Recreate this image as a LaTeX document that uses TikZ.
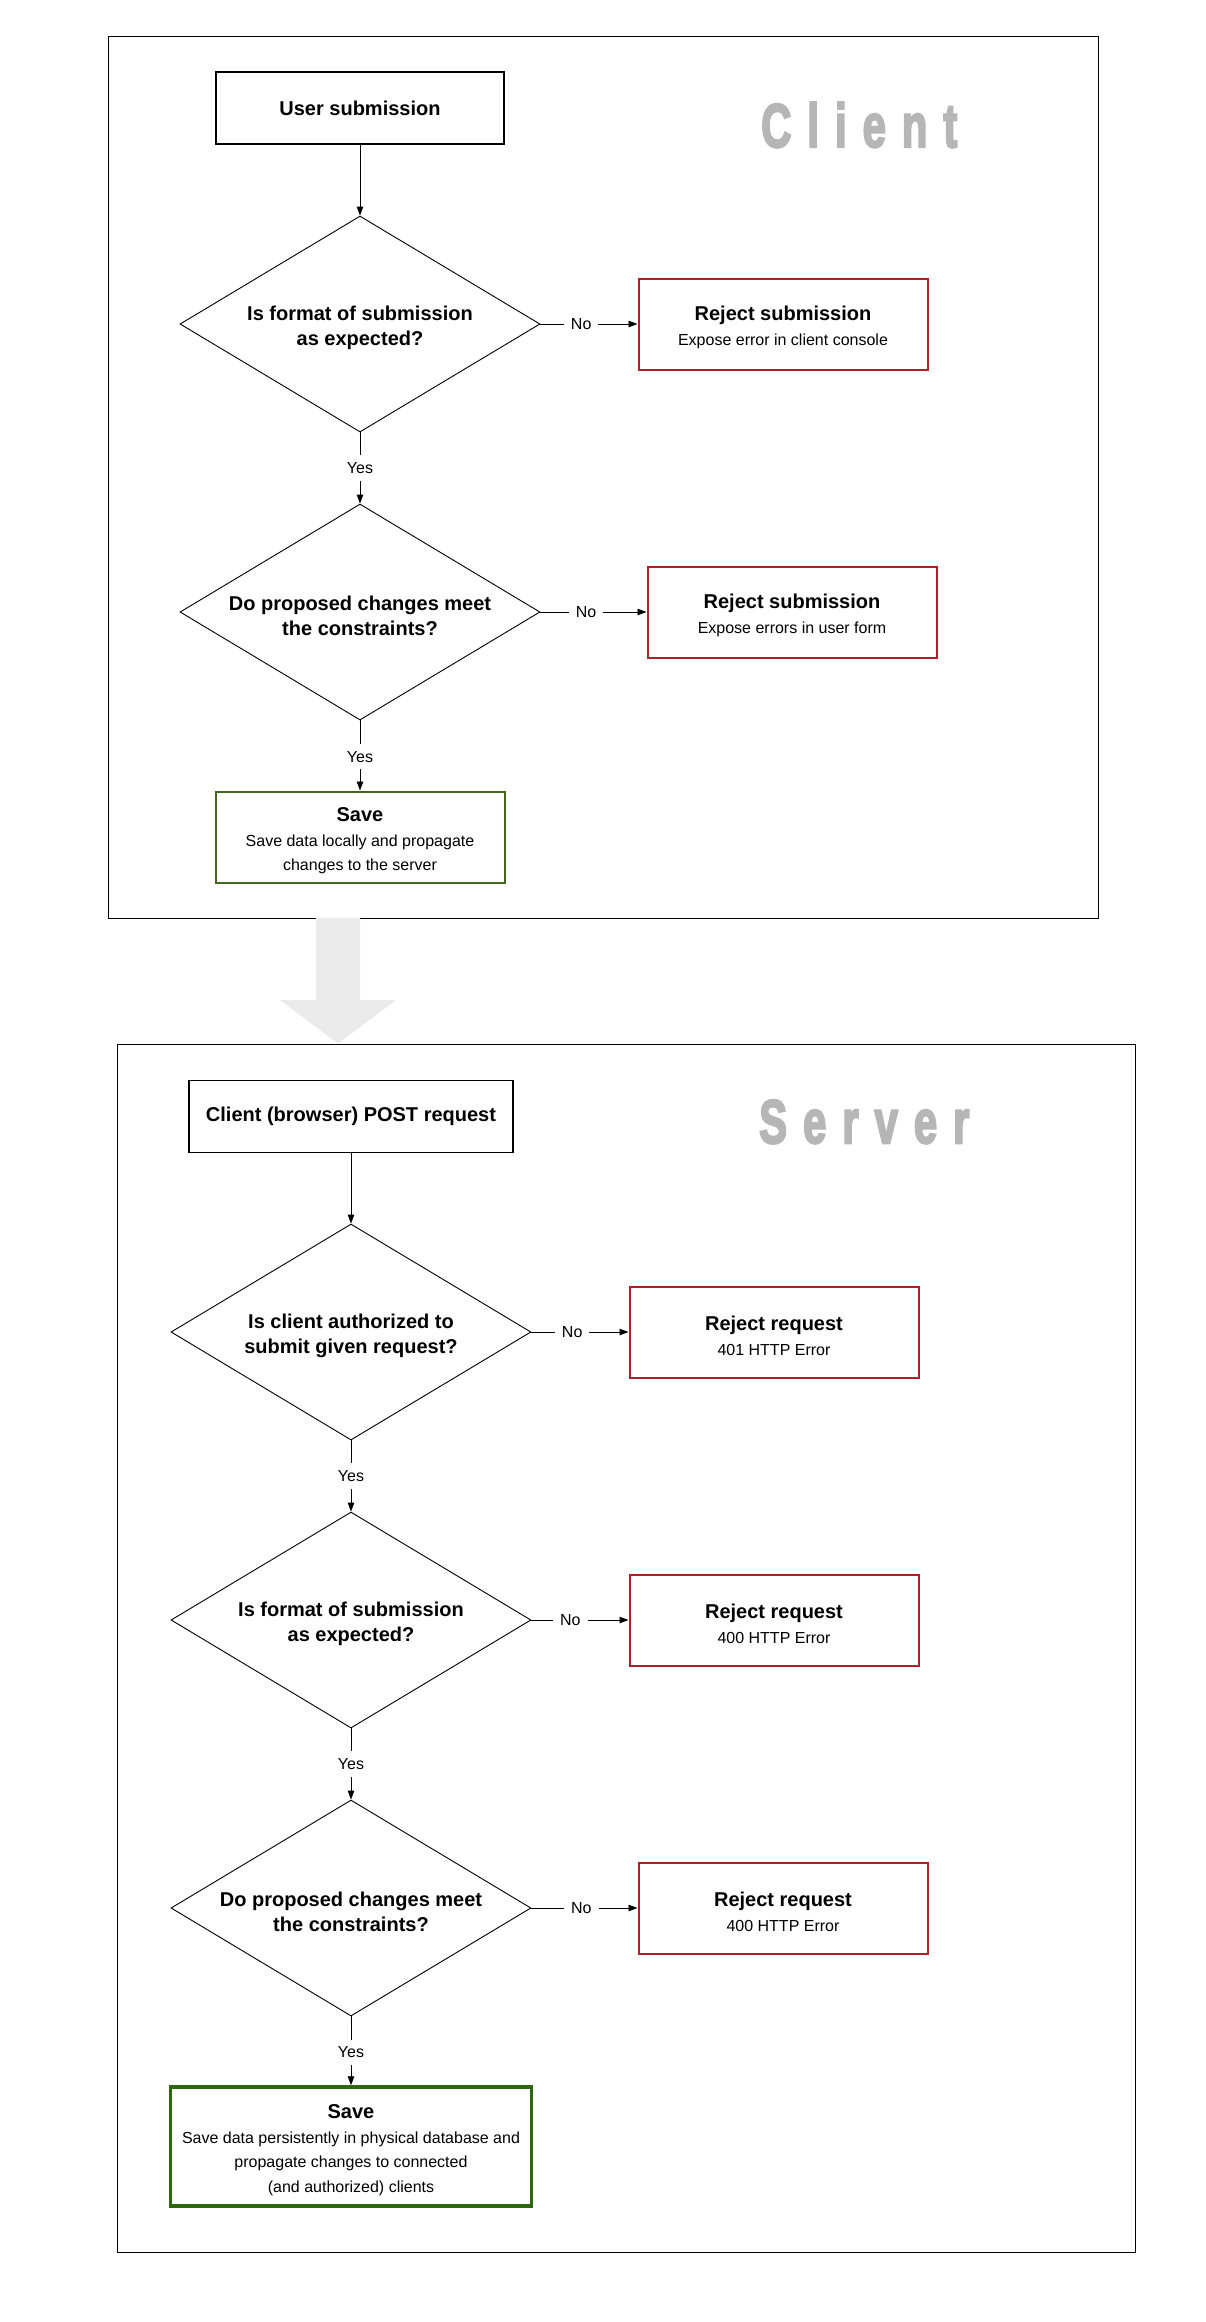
\documentclass[tikz,border=0pt]{standalone}
\usepackage{fontspec}
\usepackage{graphicx}
\setmainfont{Liberation Sans}
\newfontfamily\zonefont[FakeBold=4]{Liberation Sans Bold}
\usetikzlibrary{shapes.geometric,arrows.meta}

\definecolor{rejectred}{RGB}{176,32,42}
\definecolor{savegreen}{RGB}{66,104,28}
\definecolor{finalgreen}{RGB}{44,104,12}
\definecolor{zonegray}{RGB}{182,182,182}
\definecolor{handoffgray}{RGB}{235,235,235}

% one letter of a tracked, condensed zone heading
\newcommand\zoneletter[1]{\scalebox{0.68}[1]{#1}\hspace{16pt}}
\newcommand\zonelast[1]{\scalebox{0.68}[1]{#1}}
% taller first line, so that multi-line texts sit a little lower in their shapes
\newcommand\firstline{\rule{0pt}{21.5pt}}

\tikzset{
  frame/.style={draw=black, line width=1pt},
  zonelabel/.style={inner sep=0pt, text=zonegray, font={\zonefont\fontsize{61.5}{61.5}\selectfont}},
  startbox/.style={rectangle, draw=black, inner sep=0pt, align=center,
    font={\fontsize{20}{25}\selectfont\bfseries}},
  decision/.style={diamond, draw=black, line width=0.9pt, aspect=1.667, inner sep=0pt,
    minimum width=360pt, minimum height=216pt, align=center,
    font={\fontsize{20}{25}\selectfont\bfseries}},
  rejectbox/.style={rectangle, draw=rejectred, line width=2pt, inner sep=0pt,
    minimum width=289pt, minimum height=91pt, align=center,
    font={\fontsize{16}{25}\selectfont}},
  savebox/.style={rectangle, inner sep=0pt, align=center,
    font={\fontsize{16}{24.5}\selectfont}},
  flow/.style={draw=black, line width=0.9pt, -{Triangle[length=9pt,width=6.5pt]}},
  answer/.style={fill=white, inner sep=7pt, font={\fontsize{16}{19}\selectfont}}
}

\newcommand\boxtitle[1]{{\fontsize{20}{25}\selectfont\bfseries\firstline #1}}

\begin{document}
\begin{tikzpicture}[x=1pt,y=-1pt]
\useasboundingbox (0,0) rectangle (1206,2322);
\fill[white] (0,0) rectangle (1206,2322);

% zone frames
\draw[frame] (108,36) rectangle (1098,918);
\draw[frame] (117,1044) rectangle (1135,2252);

% hand-off arrow from client zone to server zone
\fill[handoffgray] (316,917.5) -- (360,917.5) -- (360,1000) -- (396,1000)
  -- (338,1043.5) -- (280,1000) -- (316,1000) -- cycle;

% zone headings
\node[zonelabel, anchor=base west] (clientlabel) at (761,147)
  {\zoneletter{C}\zoneletter{l}\zoneletter{i}\zoneletter{e}\zoneletter{n}\zonelast{t}};
\node[zonelabel, anchor=base west] (serverlabel) at (759,1143)
  {\zoneletter{S}\zoneletter{e}\zoneletter{r}\zoneletter{v}\zoneletter{e}\zonelast{r}};

% ---------------- client flow ----------------
\node[startbox, line width=2pt, minimum width=288pt, minimum height=72pt] (user) at (360,108) {User submission};
\node[decision] (c1) at (360,324) {\firstline Is format of submission\\as expected?};
\node[rejectbox] (cr1) at (783,324) {\boxtitle{Reject submission}\\Expose error in client console};
\node[decision] (c2) at (360,612) {\firstline Do proposed changes meet\\the constraints?};
\node[rejectbox] (cr2) at (792,612) {\boxtitle{Reject submission}\\Expose errors in user form};
\node[savebox, draw=savegreen, line width=2pt, minimum width=289pt, minimum height=91pt] (csave) at (360,837)
  {\boxtitle{Save}\\Save data locally and propagate\\changes to the server};

\draw[flow] (user.south) -- (c1.north);
\draw[flow] (c1.east) -- node[answer, pos=0.42] {No} (cr1.west);
\draw[flow] (c1.south) -- node[answer] {Yes} (c2.north);
\draw[flow] (c2.east) -- node[answer, pos=0.43] {No} (cr2.west);
\draw[flow] (c2.south) -- node[answer, pos=0.52] {Yes} (csave.north);

% ---------------- server flow ----------------
\node[startbox, line width=1.3pt, minimum width=324pt, minimum height=72pt] (post) at (351,1116.5) {Client (browser) POST request};
\node[decision] (s1) at (351,1332) {\firstline Is client authorized to\\submit given request?};
\node[rejectbox] (sr1) at (774,1332) {\boxtitle{Reject request}\\401 HTTP Error};
\node[decision] (s2) at (351,1620) {\firstline Is format of submission\\as expected?};
\node[rejectbox] (sr2) at (774,1620) {\boxtitle{Reject request}\\400 HTTP Error};
\node[decision] (s3) at (351,1908) {\firstline Do proposed changes meet\\the constraints?};
\node[rejectbox] (sr3) at (783,1908) {\boxtitle{Reject request}\\400 HTTP Error};
\node[savebox, draw=finalgreen, line width=3.5pt, minimum width=361pt, minimum height=119pt] (ssave) at (351,2146.5)
  {\boxtitle{Save}\\Save data persistently in physical database and\\propagate changes to connected\\(and authorized) clients};

\draw[flow] (post.south) -- (s1.north);
\draw[flow] (s1.east) -- node[answer, pos=0.42] {No} (sr1.west);
\draw[flow] (s1.south) -- node[answer] {Yes} (s2.north);
\draw[flow] (s2.east) -- node[answer, pos=0.40] {No} (sr2.west);
\draw[flow] (s2.south) -- node[answer] {Yes} (s3.north);
\draw[flow] (s3.east) -- node[answer, pos=0.47] {No} (sr3.west);
\draw[flow] (s3.south) -- node[answer, pos=0.52] {Yes} (ssave.north);
\end{tikzpicture}
\end{document}
